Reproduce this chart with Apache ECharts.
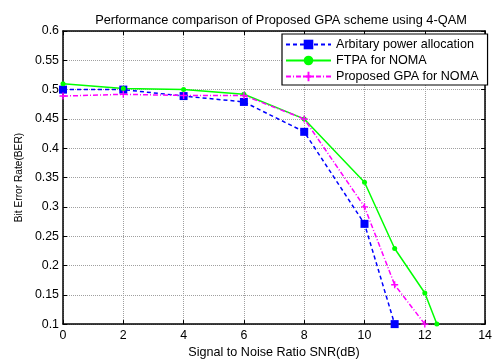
<!DOCTYPE html>
<html><head><meta charset="utf-8">
<script src="https://cdn.jsdelivr.net/npm/echarts@6/dist/echarts.min.js"></script>
<style>html,body{margin:0;padding:0;background:#fff}#c{width:495px;height:364px}</style>
</head><body><div id="c"></div>
<script>
const seriesNames = ['Arbitary power allocation', 'FTPA for NOMA', 'Proposed GPA for NOMA'];
const snrArbitary = [0, 2, 4, 6, 8, 10, 11];
const berArbitary = [0.50, 0.50, 0.489, 0.479, 0.428, 0.271, 0.10];
const snrFTPA = [0, 2, 4, 6, 8, 10, 11, 12, 12.4];
const berFTPA = [0.51, 0.502, 0.50, 0.492, 0.45, 0.342, 0.229, 0.153, 0.10];
const snrGPA = [0, 2, 4, 6, 8, 10, 11, 12];
const berGPA = [0.489, 0.492, 0.49, 0.49, 0.45, 0.30, 0.167, 0.10];
const xTicks = [0, 2, 4, 6, 8, 10, 12, 14];
const yTicks = [0.1, 0.15, 0.2, 0.25, 0.3, 0.35, 0.4, 0.45, 0.5, 0.55, 0.6];
const titleText = 'Performance comparison of Proposed GPA scheme using 4-QAM';
const xName = 'Signal to Noise Ratio SNR(dB)';
const yName = 'Bit Error Rate(BER)';

const zip = (xs, ys) => xs.map((x, i) => [x, ys[i]]);
const FONT = 'Liberation Sans, Arial, sans-serif';
const plusPath = 'path://M4,0 L6,0 L6,4 L10,4 L10,6 L6,6 L6,10 L4,10 L4,6 L0,6 L0,4 L4,4 Z';

const chart = echarts.init(document.getElementById('c'), null, {renderer: 'canvas'});
const axisCommon = {
  axisLine: {show: true, onZero: false, lineStyle: {color: '#000', width: 1.5}},
  axisTick: {show: true, inside: true, length: 4, lineStyle: {color: '#000'}},
};
chart.setOption({
  animation: false,
  backgroundColor: '#fff',
  title: {text: titleText, left: 276, top: 9, textAlign: 'center',
    textStyle: {fontFamily: FONT, fontSize: 12.8, fontWeight: 'normal', color: '#000'}},
  grid: {left: 63, top: 31, right: 1, bottom: 32, containLabel: false},
  legend: {
    orient: 'vertical', left: 282, top: 34,
    padding: [4, 9, 2, 3], itemGap: 3, itemWidth: 45, itemHeight: 12,
    backgroundColor: '#fff', borderColor: '#000', borderWidth: 1.2, borderRadius: 0,
    textStyle: {fontFamily: FONT, fontSize: 12.6, color: '#000'},
    data: seriesNames
  },
  xAxis: [
    Object.assign({type: 'value', min: 0, max: 14, interval: 2, position: 'bottom',
      name: xName, nameLocation: 'middle', nameGap: 15,
      nameTextStyle: {fontFamily: FONT, fontSize: 12.6, color: '#000'},
      axisLabel: {fontFamily: FONT, fontSize: 12.4, color: '#000', margin: 5,
        formatter: v => xTicks.includes(v) ? String(v) : ''},
      splitLine: {show: true, lineStyle: {color: '#a0a0a0', type: 'dotted', width: 1}}}, axisCommon),
    Object.assign({type: 'value', min: 0, max: 14, interval: 2, position: 'top',
      axisLabel: {show: false}, splitLine: {show: false}}, axisCommon)
  ],
  yAxis: [
    Object.assign({type: 'value', min: 0.1, max: 0.6, interval: 0.05, position: 'left',
      name: yName, nameLocation: 'middle', nameGap: 38, nameRotate: 90,
      nameTextStyle: {fontFamily: FONT, fontSize: 10.2, color: '#000'},
      axisLabel: {fontFamily: FONT, fontSize: 12.4, color: '#000', margin: 4,
        formatter: v => { const t = yTicks.find(y => Math.abs(y - v) < 1e-6); return t === undefined ? '' : String(t); }},
      splitLine: {show: true, lineStyle: {color: '#a0a0a0', type: 'dotted', width: 1}}}, axisCommon),
    Object.assign({type: 'value', min: 0.1, max: 0.6, interval: 0.05, position: 'right',
      axisLabel: {show: false}, splitLine: {show: false}}, axisCommon)
  ],
  series: [
    {name: seriesNames[0], type: 'line', data: zip(snrArbitary, berArbitary),
      color: '#0000ff', symbol: 'rect', symbolSize: 8,
      lineStyle: {color: '#0000ff', width: 1.5, type: [4, 3]},
      itemStyle: {color: '#0000ff'}},
    {name: seriesNames[1], type: 'line', data: zip(snrFTPA, berFTPA),
      color: '#00ff00', symbol: 'circle', symbolSize: 5,
      lineStyle: {color: '#00ff00', width: 1.5},
      itemStyle: {color: '#00ff00'}},
    {name: seriesNames[2], type: 'line', data: zip(snrGPA, berGPA),
      color: '#ff00ff', symbol: plusPath, symbolSize: 7,
      lineStyle: {color: '#ff00ff', width: 1.5, type: [5, 2, 1, 2]},
      itemStyle: {color: '#ff00ff'}}
  ]
});
</script></body></html>
